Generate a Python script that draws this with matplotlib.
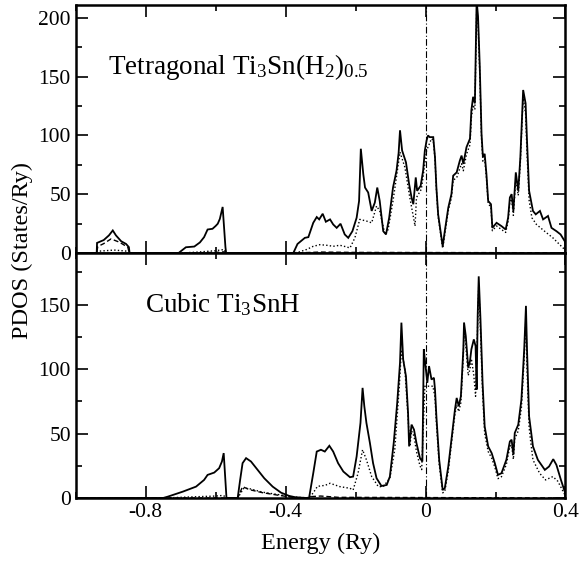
import numpy as np
import matplotlib
matplotlib.use("Agg")
import matplotlib.pyplot as plt
from matplotlib.ticker import MultipleLocator

plt.rcParams["font.family"] = ["Liberation Serif", "DejaVu Serif"]
plt.rcParams["mathtext.default"] = "regular"

# tetragonal Ti3Sn(H2)0.5 -- total (solid), partial (dotted), partial (dashed)
tet_e = [-1.00, -0.940, -0.939, -0.920, -0.905, -0.894, -0.885, -0.870, -0.856, -0.848, -0.846,
         -0.706, -0.685, -0.661, -0.645, -0.633, -0.623, -0.609, -0.600, -0.594, -0.588, -0.580,
         -0.572, -0.570,
         -0.378, -0.366, -0.345, -0.335, -0.321, -0.311, -0.304, -0.294, -0.285, -0.273, -0.264,
         -0.254, -0.243, -0.231, -0.221, -0.209, -0.197, -0.190, -0.185, -0.178, -0.173, -0.164,
         -0.154, -0.145, -0.138, -0.131, -0.121, -0.113, -0.104, -0.093, -0.083, -0.077, -0.073,
         -0.067, -0.056, -0.047, -0.040, -0.035, -0.028, -0.024, -0.014, -0.007, -0.002, 0.003,
         0.007, 0.012, 0.022, 0.027, 0.031, 0.036, 0.049, 0.055, 0.065, 0.074, 0.079, 0.089,
         0.098, 0.103, 0.108, 0.117, 0.127, 0.131, 0.136, 0.141, 0.146, 0.150, 0.155, 0.160,
         0.164, 0.169, 0.174, 0.179, 0.187, 0.191, 0.203, 0.217, 0.229, 0.236, 0.241, 0.246,
         0.251, 0.258, 0.265, 0.271, 0.279, 0.286, 0.290, 0.296, 0.307, 0.315, 0.327, 0.336,
         0.350, 0.360, 0.374, 0.386, 0.398, 0.400]
tet_tot = [0, 0, 8.6, 11, 15, 19.2, 15, 10, 7.7, 5, 0,
           0, 4.9, 5.5, 9, 13.5, 20, 20.6, 23, 24.9, 29, 39.2,
           5, 0,
           0, 7.7, 12.9, 13.5, 25.7, 30.6, 28.6, 33.4, 26.6, 28.6, 24.3,
           21.4, 24.9, 15.8, 12.9, 18.6, 30, 44.3, 88.7, 67.2, 55.7, 51.5,
           35.8, 42.9, 55.7, 44.3, 18.6, 15.8, 30, 55.7, 70, 85, 104.4,
           87.2, 77.2, 58.7, 47.2, 41.5, 64.3, 52.9, 57.2, 70, 87.2, 95.8,
           100, 98.6, 98.6, 81.5, 55.7, 32.9, 5.7, 18.6, 38.6, 50.1, 65.8, 68.6,
           78.6, 82.9, 75.8, 90, 97.3, 121.5, 132.9, 127.3, 215, 201.5, 158.7, 101.5,
           81.5, 84.4, 67.2, 44.3, 41.5, 21.4, 25.7, 22.9, 20, 30, 47.2, 50.1,
           35.8, 68.6, 52.9, 81.5, 138.7, 127.3, 95.8, 52.9, 35.8, 32.9, 35.8, 28.6,
           31.5, 21.4, 18.6, 15.8, 10, 9]

tet_dot_e = [-1.00, -0.940, -0.938, -0.890, -0.850, -0.846, -0.700, -0.650, -0.600, -0.575, -0.570,
             -0.378, -0.360, -0.340, -0.321, -0.302, -0.280, -0.264, -0.245, -0.230, -0.216,
             -0.202, -0.188, -0.169, -0.154, -0.140, -0.131, -0.116, -0.107, -0.093, -0.073,
             -0.059, -0.045, -0.030, -0.026, -0.012, -0.006, 0.003, 0.017, 0.022, 0.027, 0.031,
             0.036, 0.049, 0.055, 0.065, 0.074, 0.079, 0.089, 0.098, 0.103, 0.108, 0.117, 0.127,
             0.131, 0.136, 0.141, 0.146, 0.150, 0.155, 0.160, 0.164, 0.169, 0.174, 0.179, 0.187,
             0.191, 0.203, 0.217, 0.229, 0.236, 0.241, 0.246, 0.251, 0.258, 0.265, 0.271, 0.279,
             0.286, 0.290, 0.296, 0.304, 0.317, 0.340, 0.364, 0.393, 0.400]
tet_dot = [0, 0, 1.5, 2.5, 1.5, 0, 0, 0.8, 2, 3, 0,
           0, 1, 3, 5.7, 7.1, 6.5, 5.7, 6.6, 5.5, 4.3,
           12.9, 28.6, 27.2, 25.7, 40, 35.8, 15.8, 20, 44.3, 85.8,
           72.9, 47.2, 22.9, 47.2, 54.3, 67.2, 87.2, 97.3, 96, 80, 54,
           31, 4, 16, 36, 47, 62, 64, 72, 76, 70, 84, 92,
           115, 126, 122, 205, 195, 152, 97, 78, 80, 64, 42, 39,
           19, 23, 20, 17.5, 27, 43, 46, 32, 63, 49, 77, 133,
           118, 85, 45, 30, 24.3, 18.6, 12.9, 4.3, 3]

tet_dash_e = [-1.00, -0.940, -0.937, -0.920, -0.899, -0.875, -0.851, -0.847,
              -0.700, -0.600, -0.575, -0.570, -0.378, -0.300, -0.200, 0.400]
tet_dash = [0, 0, 5.5, 8, 12, 9.2, 4.9, 0,
            0, 0.5, 1, 0, 0, 0.8, 0.5, 0.2]

# cubic Ti3SnH
cub_e = [-1.00, -0.750, -0.737, -0.694, -0.656, -0.633, -0.623, -0.604, -0.590, -0.582, -0.577,
         -0.569, -0.537, -0.530, -0.523, -0.513, -0.499, -0.480, -0.461, -0.437, -0.413, -0.390,
         -0.371, -0.340, -0.333, -0.321, -0.311, -0.299, -0.288, -0.275, -0.264, -0.250, -0.235,
         -0.216, -0.207, -0.197, -0.186, -0.180, -0.175, -0.169, -0.159, -0.150, -0.140, -0.126,
         -0.111, -0.102, -0.091, -0.081, -0.073, -0.069, -0.064, -0.056, -0.050, -0.047, -0.040,
         -0.033, -0.026, -0.016, -0.009, -0.005, -0.001, 0.005, 0.010, 0.017, 0.024, 0.027,
         0.031, 0.039, 0.049, 0.055, 0.065, 0.074, 0.084, 0.089, 0.095, 0.101, 0.108, 0.110,
         0.115, 0.122, 0.127, 0.131, 0.138, 0.143, 0.146, 0.149, 0.152, 0.157, 0.163, 0.169,
         0.179, 0.189, 0.198, 0.207, 0.217, 0.231, 0.241, 0.246, 0.251, 0.255, 0.265, 0.274,
         0.282, 0.287, 0.290, 0.296, 0.307, 0.321, 0.341, 0.353, 0.365, 0.374, 0.387, 0.398, 0.400]
cub_tot = [0, 0, 1, 4.9, 8.8, 14, 17.9, 19.7, 23.1, 28.3, 34.8,
           0, 0, 14, 27, 30.9, 28.3, 21.8, 15.3, 8.8, 4.1, 1.6,
           0.5, 0, 0, 19.2, 36, 37.4, 36, 40.5, 36, 27, 20.5,
           16.1, 16.6, 32.2, 58.2, 85.4, 71.1, 58.2, 42.6, 27, 15.3, 9.3,
           10.1, 16.6, 42.6, 73.8, 104.9, 136, 107.5, 94.5, 66, 40, 56.9,
           53, 42.6, 30.9, 28.3, 115.3, 104.9, 89.3, 102.3, 91.9, 93.2, 84.1,
           63.3, 29.6, 6.2, 7.6, 24.4, 45.2, 68.5, 77.6, 71.1, 78.9, 115.3, 136.1,
           125.6, 101, 106.1, 115.3, 123, 117.8, 84.1, 141.2, 171.9, 138.6, 89.3, 55.5,
           40, 34.8, 27, 17.9, 19.2, 29.6, 43.8, 45.2, 33.5, 50.4, 56.9, 76.3,
           115.3, 149, 115.3, 63.3, 40, 29.6, 21.8, 24.4, 30.1, 25.7, 14, 4.9, 3]

cub_dot_e = [-1.00, -0.750, -0.700, -0.600, -0.578, -0.569, -0.537, -0.519, -0.500, -0.466,
             -0.418, -0.380, -0.333, -0.321, -0.309, -0.287, -0.273, -0.245, -0.216, -0.207,
             -0.193, -0.180, -0.169, -0.154, -0.135, -0.121, -0.102, -0.088, -0.075, -0.069,
             -0.059, -0.050, -0.045, -0.040, -0.033, -0.026, -0.016, -0.011, -0.002, 0.007,
             0.021, 0.027, 0.031, 0.039, 0.049, 0.055, 0.065, 0.074, 0.084, 0.089, 0.095, 0.101,
             0.108, 0.110, 0.115, 0.122, 0.127, 0.131, 0.138, 0.143, 0.149, 0.152, 0.157, 0.163,
             0.169, 0.179, 0.189, 0.198, 0.207, 0.217, 0.231, 0.241, 0.246, 0.251, 0.255, 0.265,
             0.274, 0.282, 0.287, 0.290, 0.296, 0.300, 0.307, 0.326, 0.343, 0.364, 0.378, 0.398,
             0.400]
cub_dot = [0, 0, 0.5, 1.5, 2, 0, 0, 7.8, 7, 4.5,
           2.5, 0.8, 0, 4, 9, 9.8, 11.4, 8.8, 7.5, 6.2,
           19.2, 37.4, 29.6, 16.6, 8.8, 8.8, 15.3, 37.4, 86.7, 115,
           99.7, 62.3, 40, 52, 48, 36, 25, 22, 86.7, 86.7,
           86.7, 78, 58, 26, 4, 5, 21, 42, 65, 72, 67, 74,
           110, 130, 118, 95, 100, 108, 95, 78.9, 135, 165, 130, 82,
           50, 36, 31, 24, 15, 16.5, 26, 40, 41, 30, 46, 52,
           70, 108, 140, 100, 55, 45, 29.6, 19.2, 14, 16.6, 13, 2.6,
           2]

cub_dash_e = [-1.00, -0.537, -0.523, -0.504, -0.466, -0.418, -0.380, -0.340, -0.330, -0.300, -0.250, 0.400]
cub_dash = [0, 0, 8.8, 6.5, 4.1, 2, 0.5, 0, 1, 1.5, 0.5, 0]

panels = [
    (tet_e, tet_tot, tet_dot_e, tet_dot, tet_dash_e, tet_dash, 211,
     [0, 50, 100, 150, 200], r"Tetragonal Ti$_3$Sn(H$_2$)$_{0.5}$", (0.066, 0.722)),
    (cub_e, cub_tot, cub_dot_e, cub_dot, cub_dash_e, cub_dash, 190,
     [0, 50, 100, 150], r"Cubic Ti$_3$SnH", (0.141, 0.760)),
]

fig = plt.figure(figsize=(5.81, 5.63), dpi=100)
ax_top = fig.add_axes([0.1303, 0.5506, 0.843, 0.4405])
ax_bot = fig.add_axes([0.1303, 0.1155, 0.843, 0.4351], sharex=ax_top)

for ax, (e, tot, de, dot, he, dash, ymax, yt, label, pos) in zip([ax_top, ax_bot], panels):
    ax.plot(e, tot, color="black", lw=1.3, solid_joinstyle="miter")
    ax.plot(de, dot, color="black", lw=1.0, ls=(0, (1, 1.6)))
    ax.plot(he, dash, color="black", lw=1.0, ls=(0, (3.5, 2)))
    ax.axvline(0, color="black", lw=0.8, ls=(0, (6, 2, 1, 2)))
    ax.set_xlim(-1.0, 0.4)
    ax.set_ylim(0, ymax)
    ax.set_yticks(yt)
    ax.yaxis.set_minor_locator(MultipleLocator(25))
    ax.xaxis.set_major_locator(MultipleLocator(0.4))
    ax.xaxis.set_minor_locator(MultipleLocator(0.2))
    ax.tick_params(which="both", direction="in", top=True, right=True, width=1.2,
                   labelsize=15.5)
    ax.tick_params(which="major", length=8.5)
    ax.tick_params(which="minor", length=4.5)
    for s in ax.spines.values():
        s.set_linewidth(1.8)
    ax.text(pos[0], pos[1], label, transform=ax.transAxes, fontsize=19.5,
            va="baseline", ha="left")

ax_top.tick_params(labelbottom=False)
ax_bot.set_xticks([-0.8, -0.4, 0, 0.4])
ax_bot.set_xticklabels(["-0.8", "-0.4", "0", "0.4"])
ax_bot.set_xlabel("Energy (Ry)", fontsize=17.5, labelpad=8)
fig.text(0.038, 0.555, "PDOS (States/Ry)", rotation=90, fontsize=17.5,
         ha="center", va="center")

fig.savefig("out.png", dpi=100)
